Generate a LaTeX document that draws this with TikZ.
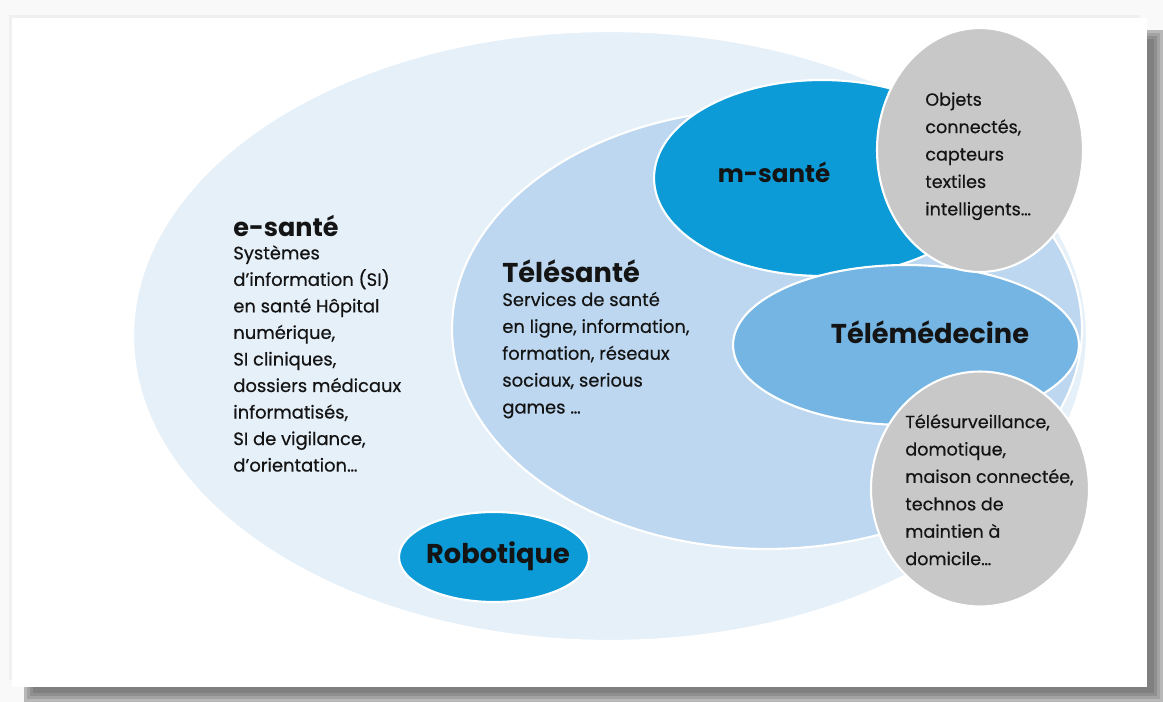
\documentclass[tikz,border=0pt]{standalone}
\usepackage{fontspec}
\setmainfont{Poppins}
\newfontfamily\labelfont{Poppins}[FakeBold=0.5]
\usetikzlibrary{positioning,shapes.geometric}

\definecolor{esanteblue}{HTML}{E6F0F9}
\definecolor{telesanteblue}{HTML}{BCD7EF}
\definecolor{msanteblue}{HTML}{0C9BD7}
\definecolor{telemedblue}{HTML}{74B5E3}
\definecolor{bubblegrey}{HTML}{C8C8C8}
\definecolor{inkdark}{HTML}{141414}

\begin{document}
\begin{tikzpicture}[
    x=0.02cm, y=-0.02cm,
    font=\labelfont\fontsize{10.2}{15.1}\selectfont,
    blob/.style={
        ellipse, draw=white, line width=1.2pt,
        inner sep=0pt
    },
    title/.style={font=\fontsize{15.5}{18}\selectfont\bfseries, text=inkdark, inner sep=0pt},
    body/.style={align=left, text=inkdark, inner sep=0pt},
    bubbletext/.style={body, font=\labelfont\fontsize{10}{15.6}\selectfont}
]

% page, shadow and white sheet
\useasboundingbox (0,0) rectangle (1163,702);
\fill[gray!5] (0,0) rectangle (1163,702);
\foreach \d/\c in {0/28,3/36,6/44,9/50}
    \fill[black!\c] (24+\d,30+\d) rectangle (1163-\d,702-\d);
\fill[gray!12] (9,15) rectangle (1140,680);
\fill[white] (12,18) rectangle (1147,687);

% nested fields
\node[blob, fill=esanteblue, minimum width=19.08cm, minimum height=12.2cm] (esante) at (610,336) {};
\node[blob, fill=telesanteblue, minimum width=12.6cm, minimum height=8.8cm] (telesante) at (767,329) {};
\node[blob, fill=msanteblue, minimum width=6.72cm, minimum height=3.92cm] (msante) at (822,178) {};
\node[blob, fill=telemedblue, minimum width=6.92cm, minimum height=3.2cm] (telemed) at (906,345) {};
\node[blob, fill=bubblegrey, minimum width=4.12cm, minimum height=4.88cm] (objets) at (980,150) {};
\node[blob, fill=bubblegrey, minimum width=4.36cm, minimum height=4.7cm] (domicile) at (980,489) {};
\node[blob, fill=msanteblue, minimum width=3.8cm, minimum height=1.8cm] (robot) at (494,557) {};

% titles
\node[title, font=\fontsize{14.5}{17}\selectfont\bfseries, anchor=west] (esantetitle) at (233,226) {e-santé};
\node[title, anchor=west] (telesantetitle) at (502,271) {Télésanté};
\node[title, font=\fontsize{14}{17}\selectfont\bfseries] (msantetitle) at (774,172) {m-santé};
\node[title] (telemedtitle) at (930,332) {Télémédecine};
\node[title] (robottitle) at (498,556) {Robotique};

% texts
\node[body, below=4.5pt of esantetitle.south west, anchor=north west] (esantetext)
    {Systèmes\\d’information (SI)\\en santé Hôpital\\numérique,\\SI cliniques,\\dossiers médicaux\\informatisés,\\SI de vigilance,\\d’orientation…};
\node[body, font=\labelfont\fontsize{10.2}{15.3}\selectfont, below=5pt of telesantetitle.south west, anchor=north west] (telesantetext)
    {Services de santé\\en ligne, information,\\formation, réseaux\\sociaux, serious\\games …};
\node[bubbletext, anchor=north west] (objetstext) at (925,92)
    {Objets\\connectés,\\capteurs\\textiles\\intelligents…};
\node[bubbletext, anchor=north west] (domiciletext) at (905,414)
    {Télésurveillance,\\domotique,\\maison connectée,\\technos de\\maintien à\\domicile…};

\end{tikzpicture}
\end{document}
